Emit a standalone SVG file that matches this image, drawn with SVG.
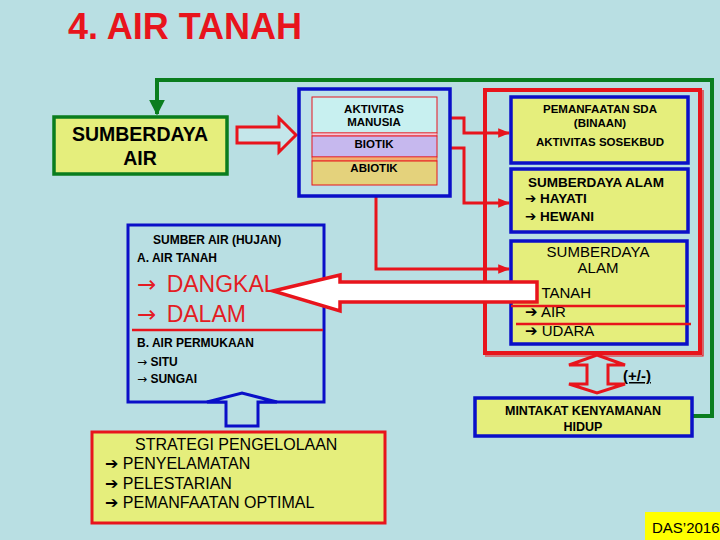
<svg xmlns="http://www.w3.org/2000/svg" width="720" height="540" viewBox="0 0 720 540">
<defs>
<style>
text{font-family:"Liberation Sans",Arial,sans-serif;fill:#000}
.b{font-weight:bold}
.yel{fill:#e5ee7c}
.blue{stroke:#0a0fc8;stroke-width:3.5}
.conn{fill:none;stroke:#e8141c;stroke-width:3}
.ar{font-family:"DejaVu Sans",sans-serif;font-weight:bold}
.ta{font-family:"DejaVu Sans",sans-serif;font-weight:normal}
</style>
<marker id="rh" viewBox="0 0 10 10" refX="9" refY="5" markerWidth="4" markerHeight="4" orient="auto" markerUnits="strokeWidth"><path d="M0,1 L10,5 L0,9 z" fill="#e8141c"/></marker>
<marker id="gh" viewBox="0 0 10 10" refX="9" refY="5" markerWidth="4" markerHeight="4" orient="auto" markerUnits="strokeWidth"><path d="M0,0 L10,5 L0,10 z" fill="#0a7d1e"/></marker>
</defs>
<rect width="720" height="540" fill="#b9dfe3"/>
<text x="68" y="39" font-size="36" class="b" style="fill:#e8141c">4. AIR TANAH</text>

<g id="connectors">
<polyline points="692,416 712,416 712,80 157,80 157,114" fill="none" stroke="#0a7d1e" stroke-width="4" marker-end="url(#gh)"/>
<polyline class="conn" points="437,118 464,118 464,133 509,133" marker-end="url(#rh)"/>
<polyline class="conn" points="437,148 464,148 464,203 509,203" marker-end="url(#rh)"/>
<polyline class="conn" points="376,185 376,269 509,269" marker-end="url(#rh)"/>
</g>

<g id="red-frame">
<rect x="485" y="90" width="215" height="263" fill="none" stroke="#e8141c" stroke-width="4"/>
<polyline points="703,90 703,356 485,356" fill="none" stroke="#e8141c" stroke-width="1.2"/>
</g>

<g id="sumberdaya-air">
<rect x="54" y="117" width="173" height="57" class="yel" stroke="#0a7d1e" stroke-width="3.5"/>
<text x="140" y="141" font-size="19.5" class="b" text-anchor="middle">SUMBERDAYA</text>
<text x="140" y="165" font-size="19.5" class="b" text-anchor="middle">AIR</text>
</g>

<g id="arrow-right">
<polygon points="237,127 279,127 279,118 296,135 279,152 279,143 237,143" fill="#c4e6ea" stroke="#e8141c" stroke-width="3"/>
</g>

<g id="stack">
<rect x="299" y="89" width="151" height="107" fill="#bde1ea" class="blue"/>
<rect x="312" y="97" width="125" height="36" fill="#c8f0f0" stroke="#e8141c" stroke-width="1"/>
<rect x="312" y="133" width="125" height="3" fill="#f5c8d8" stroke="#e8141c" stroke-width="0.6"/>
<rect x="312" y="136" width="125" height="21" fill="#c6b8ee" stroke="#e8141c" stroke-width="1"/>
<rect x="312" y="157" width="125" height="4" fill="#f0b070" stroke="#e8141c" stroke-width="0.6"/>
<rect x="312" y="161" width="125" height="24" fill="#e4d27c" stroke="#e8141c" stroke-width="1"/>
<text x="374" y="113" font-size="11.5" class="b" text-anchor="middle">AKTIVITAS</text>
<text x="374" y="126" font-size="11.5" class="b" text-anchor="middle">MANUSIA</text>
<text x="374" y="148" font-size="11.5" class="b" text-anchor="middle">BIOTIK</text>
<text x="374" y="172" font-size="11.5" class="b" text-anchor="middle">ABIOTIK</text>
</g>

<g id="pemanfaatan">
<rect x="511" y="97" width="177" height="66" class="yel blue"/>
<text x="600" y="113" font-size="11.5" class="b" text-anchor="middle">PEMANFAATAN SDA</text>
<text x="600" y="127" font-size="11.5" class="b" text-anchor="middle">(BINAAN)</text>
<text x="600" y="146" font-size="11.5" class="b" text-anchor="middle">AKTIVITAS SOSEKBUD</text>
</g>

<g id="sda-hayati">
<rect x="511" y="169" width="177" height="63" class="yel blue"/>
<text x="528" y="187" font-size="13.5" class="b">SUMBERDAYA ALAM</text>
<text x="525" y="203" font-size="13.5" class="b"><tspan class="ar">➔</tspan> HAYATI</text>
<text x="525" y="221" font-size="13.5" class="b"><tspan class="ar">➔</tspan> HEWANI</text>
</g>

<g id="sda-abiotik">
<rect x="511" y="241" width="176" height="103" class="yel blue"/>
<text x="598" y="257" font-size="15" text-anchor="middle">SUMBERDAYA</text>
<text x="598" y="273" font-size="15" text-anchor="middle">ALAM</text>
<text x="525" y="298" font-size="15"><tspan class="ar">➔</tspan> TANAH</text>
<text x="525" y="317" font-size="15"><tspan class="ar">➔</tspan> AIR</text>
<text x="525" y="336" font-size="15"><tspan class="ar">➔</tspan> UDARA</text>
<line x1="511" y1="306" x2="685" y2="306" stroke="#e8141c" stroke-width="2.5"/>
<line x1="516" y1="324" x2="691" y2="324" stroke="#e8141c" stroke-width="2.5"/>
</g>

<g id="sumber-air">
<rect x="128" y="225" width="196" height="177" fill="#b9dfe3" stroke="#0a0fc8" stroke-width="3"/>
<text x="153" y="244" font-size="12" class="b">SUMBER AIR (HUJAN)</text>
<text x="137" y="262" font-size="12" class="b">A. AIR TANAH</text>
<text x="137" y="292" font-size="23" style="fill:#e31c23"><tspan class="ta" style="fill:#e31c23">→</tspan> <tspan dx="4">DANGKAL</tspan></text>
<text x="137" y="322" font-size="23" style="fill:#e31c23"><tspan class="ta" style="fill:#e31c23">→</tspan> <tspan dx="4">DALAM</tspan></text>
<line x1="132" y1="330" x2="323" y2="330" stroke="#e8141c" stroke-width="2.5"/>
<text x="137" y="347" font-size="12" class="b">B. AIR PERMUKAAN</text>
<text x="137" y="366" font-size="12"><tspan class="ta">→</tspan> <tspan class="b">SITU</tspan></text>
<text x="137" y="383" font-size="12"><tspan class="ta">→</tspan> <tspan class="b">SUNGAI</tspan></text>
</g>

<g id="arrow-left">
<polygon points="273,291 340,275 340,282 537,282 537,302 340,302 340,311" fill="#ffffff" stroke="#e8141c" stroke-width="3.5"/>
</g>

<g id="arrow-up">
<polygon points="226,426 226,402 207,402 242,393 277,402 258,402 258,426" fill="#b9dfe3" stroke="#0a0fc8" stroke-width="3"/>
</g>

<g id="arrow-double">
<polygon points="597,355 625,365 608,365 608,384 625,384 597,393 569,384 587,384 587,365 569,365" fill="#b9dfe3" stroke="#e8141c" stroke-width="3"/>
<text x="623" y="381" font-size="15" class="b" text-decoration="underline">(+/-)</text>
</g>

<g id="mintakat">
<rect x="475" y="398" width="217" height="38" class="yel blue"/>
<text x="583" y="415" font-size="12.5" class="b" text-anchor="middle">MINTAKAT KENYAMANAN</text>
<text x="583" y="431" font-size="12.5" class="b" text-anchor="middle">HIDUP</text>
</g>

<g id="strategi">
<rect x="92" y="432" width="293" height="91" class="yel" stroke="#e8141c" stroke-width="3"/>
<text x="135" y="450" font-size="16">STRATEGI PENGELOLAAN</text>
<text x="105" y="469" font-size="16"><tspan class="ar">➔</tspan> PENYELAMATAN</text>
<text x="105" y="489" font-size="16"><tspan class="ar">➔</tspan> PELESTARIAN</text>
<text x="105" y="508" font-size="16"><tspan class="ar">➔</tspan> PEMANFAATAN OPTIMAL</text>
</g>

<g id="das">
<rect x="645" y="512" width="75" height="28" fill="#ffff00"/>
<text x="652" y="533" font-size="15">DAS’2016</text>
</g>
</svg>
